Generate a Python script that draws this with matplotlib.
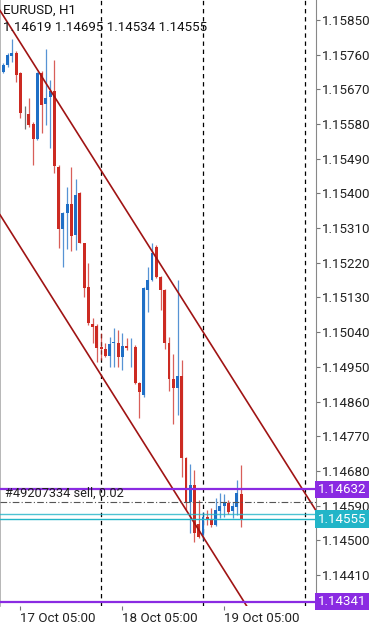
import numpy as np
import matplotlib
matplotlib.use("Agg")
import matplotlib.pyplot as plt

plt.rcParams['font.family'] = ['Roboto', 'DejaVu Sans']

# hourly bars, EURUSD H1, 17 Oct 01:00 .. 19 Oct 09:00
opens = [1.15716, 1.15733, 1.15757, 1.15765, 1.15712, 1.15608, 1.15606, 1.15579, 1.15541, 1.15712,
         1.15632, 1.15649, 1.15667, 1.15469, 1.15308, 1.15348, 1.15373, 1.15292, 1.15400, 1.15272,
         1.15156, 1.15061, 1.15056, 1.15002, 1.14996, 1.14978, 1.15012, 1.15013, 1.14975, 1.15004,
         1.14998, 1.15001, 1.14909, 1.14877, 1.15149, 1.15175, 1.15262, 1.15184, 1.15149, 1.15011,
         1.14918, 1.14894, 1.14926, 1.14713, 1.14600, 1.14644, 1.14542, 1.14514, 1.14561, 1.14555,
         1.14540, 1.14577, 1.14590, 1.14596, 1.14577, 1.14587, 1.14619]
highs = [1.15738, 1.15764, 1.15800, 1.15770, 1.15716, 1.15627, 1.15647, 1.15586, 1.15714, 1.15718,
         1.15774, 1.15694, 1.15746, 1.15474, 1.15353, 1.15416, 1.15468, 1.15437, 1.15403, 1.15272,
         1.15220, 1.15077, 1.15061, 1.15038, 1.15013, 1.15028, 1.15051, 1.15046, 1.15037, 1.15024,
         1.15024, 1.15007, 1.14911, 1.15156, 1.15210, 1.15271, 1.15266, 1.15186, 1.15151, 1.15028,
         1.14983, 1.15175, 1.14968, 1.14717, 1.14698, 1.14682, 1.14605, 1.14574, 1.14579, 1.14584,
         1.14610, 1.14622, 1.14620, 1.14605, 1.14600, 1.14656, 1.14695]
lows = [1.15712, 1.15729, 1.15742, 1.15690, 1.15595, 1.15566, 1.15573, 1.15474, 1.15539, 1.15556,
        1.15578, 1.15517, 1.15454, 1.15258, 1.15208, 1.15256, 1.15251, 1.15253, 1.15271, 1.15132,
        1.15059, 1.15012, 1.14963, 1.14968, 1.14975, 1.14950, 1.14950, 1.14949, 1.14942, 1.14994,
        1.14950, 1.14905, 1.14817, 1.14873, 1.15093, 1.15173, 1.15180, 1.15098, 1.14996, 1.14888,
        1.14802, 1.14825, 1.14665, 1.14579, 1.14519, 1.14496, 1.14507, 1.14501, 1.14540, 1.14535,
        1.14537, 1.14557, 1.14561, 1.14568, 1.14557, 1.14566, 1.14534]
closes = [1.15733, 1.15759, 1.15765, 1.15707, 1.15608, 1.15608, 1.15578, 1.15541, 1.15712, 1.15629,
          1.15647, 1.15666, 1.15471, 1.15308, 1.15348, 1.15373, 1.15290, 1.15396, 1.15272, 1.15154,
          1.15063, 1.15053, 1.14999, 1.14996, 1.14978, 1.15009, 1.15014, 1.14975, 1.15004, 1.14998,
          1.15000, 1.14907, 1.14886, 1.15154, 1.15175, 1.15245, 1.15184, 1.15149, 1.15011, 1.14918,
          1.14894, 1.14926, 1.14713, 1.14600, 1.14644, 1.14519, 1.14509, 1.14561, 1.14553, 1.14540,
          1.14579, 1.14590, 1.14600, 1.14574, 1.14590, 1.14622, 1.14555]

# price axis
yticks = [1.15850, 1.15760, 1.15670, 1.15580, 1.15490, 1.15400, 1.15310, 1.15220, 1.15130,
          1.15040, 1.14950, 1.14860, 1.14770, 1.14680, 1.14590, 1.14500, 1.14410]
xtick_bars = [4, 28, 52]
xtick_labels = ['17 Oct 05:00', '18 Oct 05:00', '19 Oct 05:00']
day_breaks = [23, 47, 71]

# channel (two anchor points each: bar index, price)
upper_ch = [(0, 1.15861), (56, 1.14884)]
lower_ch = [(0, 1.15331), (56, 1.14352)]

# horizontal levels
purple_levels = [1.14632, 1.14341]
bid = 1.14555
ask = 1.14567
order_price = 1.14599
order_text = '#49207334 sell, 0.02'

BULL = '#1f6fc6'
BEAR = '#cc2a22'
PURPLE = '#8a2be2'
CYAN = '#22b5c8'
CH_COL = '#a01414'

fig = plt.figure(figsize=(3.84, 6.25), dpi=100)
ax = fig.add_axes([0, 19 / 625, 316 / 384, 606 / 625])

# candles
for i in range(len(opens)):
    o, h, l, c = opens[i], highs[i], lows[i], closes[i]
    if c > o:
        col = BULL
    elif c < o:
        col = BEAR
    else:
        col = '#444444'
    ax.plot([i, i], [l, h], color=col, lw=0.9, alpha=0.75, zorder=3, solid_capstyle='butt')
    bot = min(o, c)
    hgt = max(abs(c - o), 0.000012)
    ax.bar(i, hgt, bottom=bot, width=0.7, color=col, lw=0, zorder=4)

# period separators
for d in day_breaks:
    ax.axvline(d, color='black', lw=0.9, ls=(0, (3.5, 3)), zorder=2)

# channel lines
ax.axline(upper_ch[0], upper_ch[1], color=CH_COL, lw=1.2, zorder=5)
ax.axline(lower_ch[0], lower_ch[1], color=CH_COL, lw=1.2, zorder=5)

# levels
for p in purple_levels:
    ax.axhline(p, color=PURPLE, lw=1.6, zorder=5)
ax.axhline(ask, color=CYAN, lw=1.0, alpha=0.8, zorder=5)
ax.axhline(bid, color=CYAN, lw=1.0, zorder=5)
ax.axhline(order_price, color='#555555', lw=0.8, ls=(0, (6, 2, 1, 2)), zorder=5)
ax.text(0.3, order_price + 0.00005, order_text, fontsize=9.2, color='#222222',
        ha='left', va='bottom', zorder=6)

# right side price boxes
ytr = ax.get_yaxis_transform()
for p in purple_levels:
    ax.text(1.006, p, '%.5f' % p, transform=ytr, fontsize=9.6, color='white', ha='left',
            va='center', clip_on=False, zorder=10,
            bbox=dict(boxstyle='square,pad=0.18', fc=PURPLE, ec='none'))
ax.text(1.006, bid, '%.5f' % bid, transform=ytr, fontsize=9.6, color='white', ha='left',
        va='center', clip_on=False, zorder=10,
        bbox=dict(boxstyle='square,pad=0.18', fc=CYAN, ec='none'))

# header
ax.text(0.008, 0.993, 'EURUSD, H1', transform=ax.transAxes, fontsize=9.6, color='#111111',
        ha='left', va='top', zorder=8)
ax.text(0.008, 0.965, '%.5f %.5f %.5f %.5f' % (opens[-1], highs[-1], lows[-1], closes[-1]),
        transform=ax.transAxes, fontsize=9.6, color='#111111', ha='left', va='top', zorder=8)

ax.set_xlim(-0.78, 73.6)
ax.set_ylim(1.143295, 1.159019)

ax.yaxis.tick_right()
ax.set_yticks(yticks)
ax.set_yticklabels(['%.5f' % v for v in yticks])
ax.tick_params(axis='y', direction='out', length=3, width=0.8, color='#777777',
               pad=1.5, labelsize=9.6, labelcolor='#222222')
ax.set_xticks(xtick_bars)
ax.set_xticklabels(xtick_labels)
ax.tick_params(axis='x', direction='out', length=3, width=0.8, color='#777777',
               pad=1, labelsize=9.6, labelcolor='#222222')
for lbl in ax.get_xticklabels():
    lbl.set_ha('left')

for s in ['top', 'bottom']:
    ax.spines[s].set_visible(False)
ax.spines['right'].set_color('#888888')
ax.spines['left'].set_color('#aaaaaa')
ax.spines['left'].set_linewidth(1.2)

fig.savefig('out.png', dpi=100)
